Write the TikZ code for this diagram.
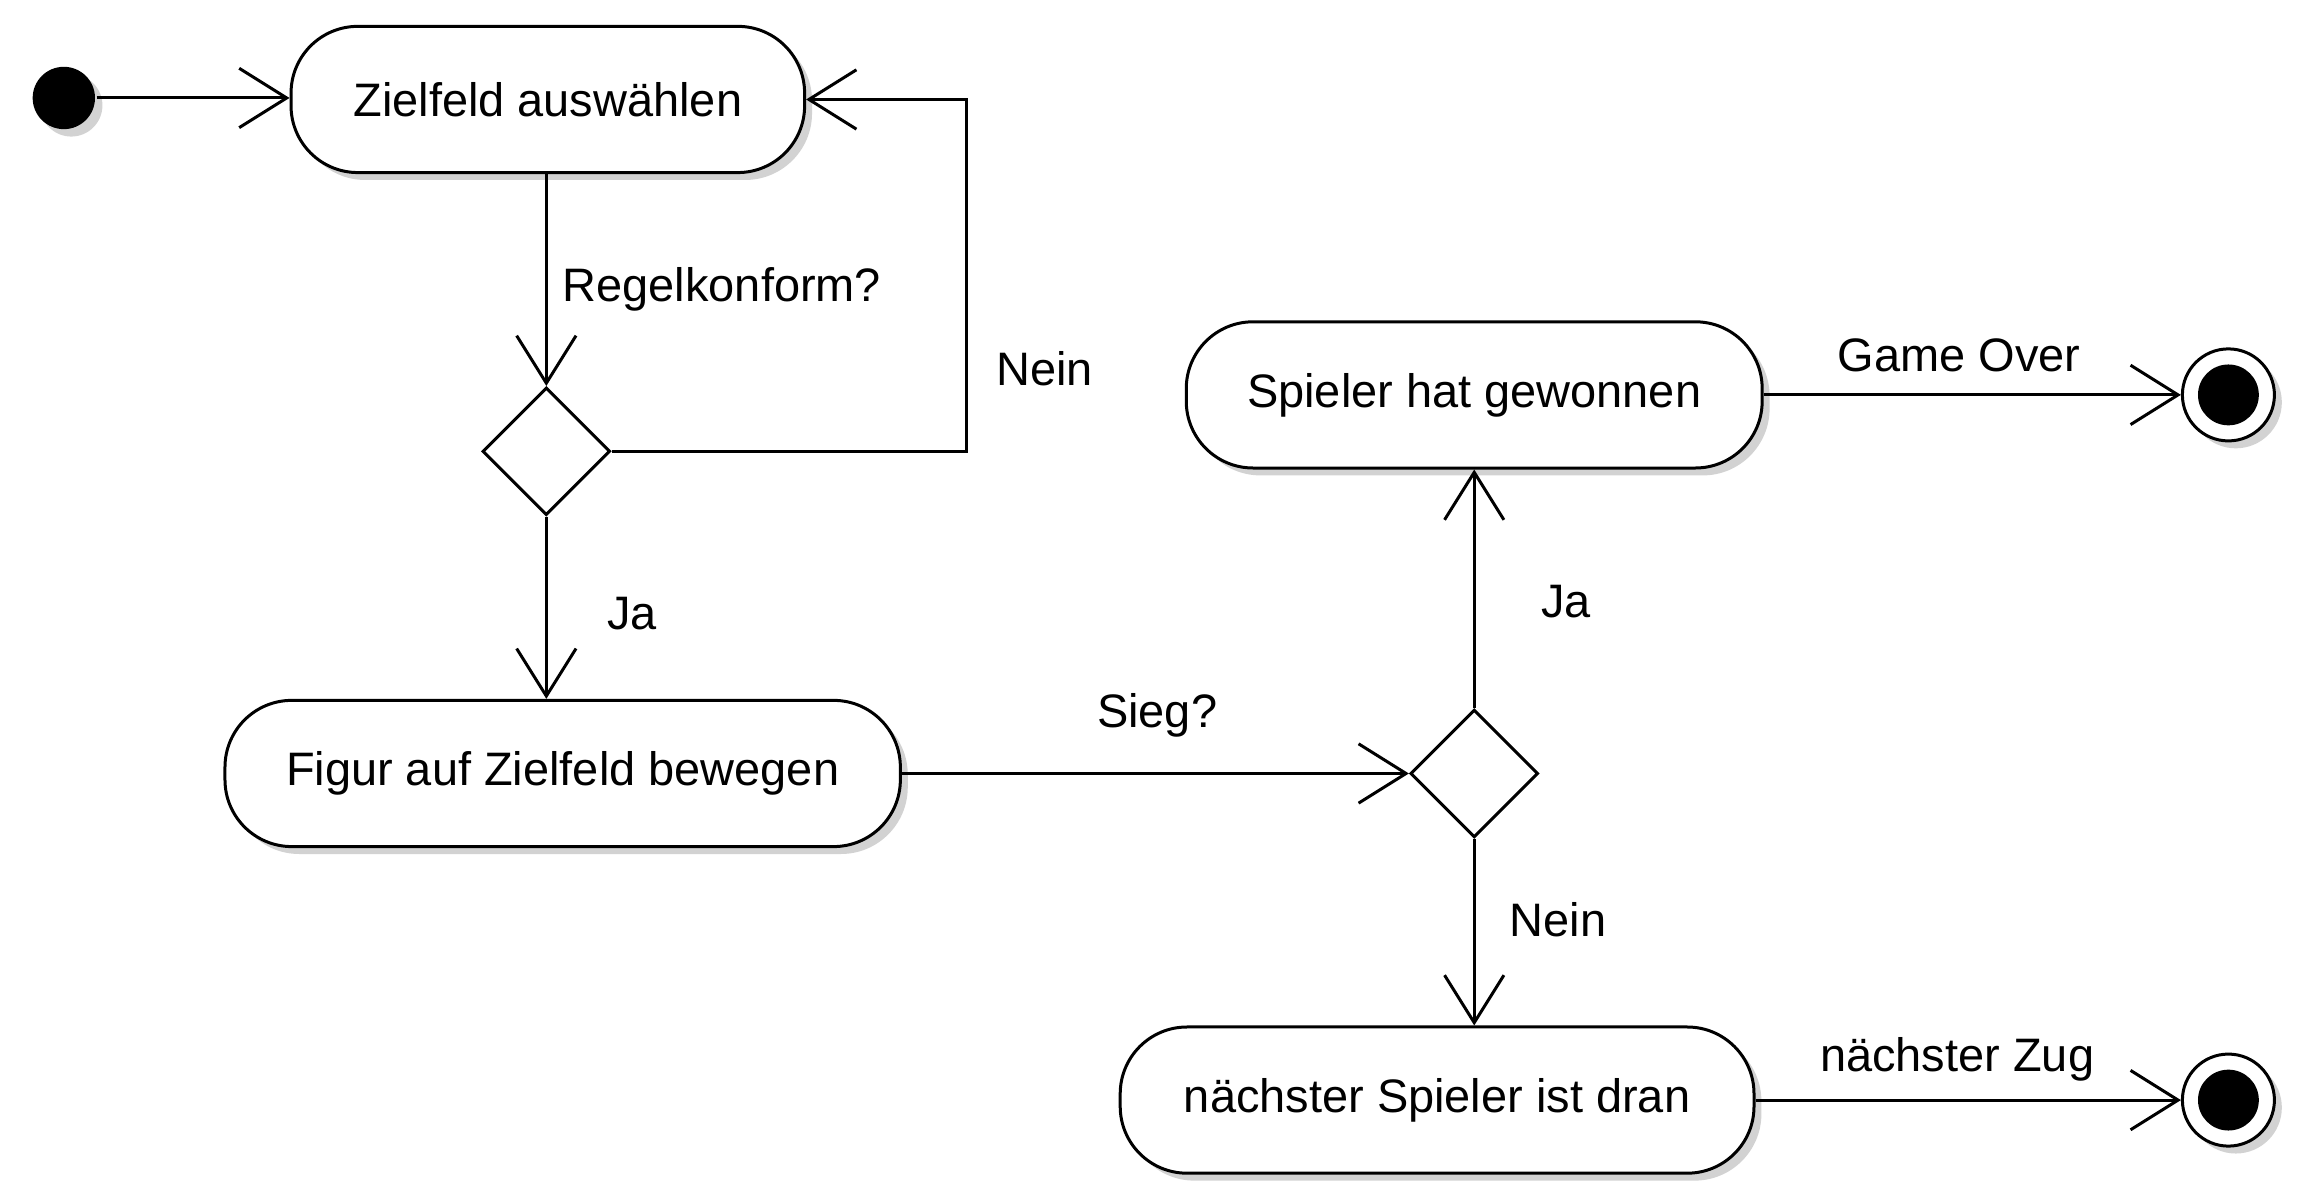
\documentclass[tikz,border=0pt]{standalone}
\usepackage{fontspec}
\setmainfont{Liberation Sans}
\usetikzlibrary{arrows.meta,shapes.geometric,shadows}

\begin{document}
\begin{tikzpicture}[x=0.02cm, y=-0.02cm, line width=1.15pt,
    shad/.style={drop shadow={shadow xshift=0.1cm, shadow yshift=-0.1cm, fill=gray!70, opacity=0.5}},
    act/.style={draw, fill=white, rounded corners=0.9cm, minimum height=1.97cm, inner sep=0pt,
        font=\fontsize{18}{22}\selectfont, shad},
    dec/.style={draw, fill=white, diamond, minimum size=1.72cm, inner sep=0pt},
    startnode/.style={circle, fill=black, minimum size=0.84cm, inner sep=0pt, shad},
    endnode/.style={circle, draw, fill=white, minimum size=1.24cm, inner sep=0pt, shad,
        path picture={\fill[black] (path picture bounding box.center) circle (0.41cm);}},
    lbl/.style={anchor=base west, inner sep=0pt, font=\fontsize{18}{22}\selectfont},
    flow/.style={-{Straight Barb[length=0.64cm, width=0.8cm]}}]
    \useasboundingbox (0,0) rectangle (1560,810);

    % Knoten
    \node[startnode] (start) at (43,66) {};
    \node[act, minimum width=6.92cm] (ziel) at (369,67) {Zielfeld auswählen};
    \node[dec] (regel) at (368,304) {};
    \node[act, minimum width=9.1cm] (figur) at (379,521) {Figur auf Zielfeld bewegen};
    \node[dec] (sieg) at (993,521) {};
    \node[act, minimum width=7.76cm] (gewonnen) at (993,266) {Spieler hat gewonnen};
    \node[act, minimum width=8.54cm] (naechster) at (968,741) {nächster Spieler ist dran};
    \node[endnode] (ende1) at (1501,266) {};
    \node[endnode] (ende2) at (1501,741) {};

    % Kanten
    \draw[flow] (start) -- (start -| ziel.west);
    \draw[flow] (ziel.south -| regel) -- (regel.north);
    \draw[flow] (regel.east) -- (651,304) |- (ziel.east);
    \draw[flow] (regel.south) -- (regel.south |- figur.north);
    \draw[flow] (figur.east) -- (sieg.west);
    \draw[flow] (sieg.north) -- (gewonnen.south);
    \draw[flow] (sieg.south) -- (sieg.south |- naechster.north);
    \draw[flow] (gewonnen.east) -- (ende1.west);
    \draw[flow] (naechster.east) -- (ende2.west);

    % Beschriftungen
    \node[lbl] (lregel) at (378,203) {Regelkonform?};
    \node[lbl] (lnein1) at (670,260) {Nein};
    \node[lbl] (lja1) at (408,424) {Ja};
    \node[lbl] (lsieg) at (738,490) {Sieg?};
    \node[lbl] (lja2) at (1037,416) {Ja};
    \node[lbl] (lnein2) at (1016,631) {Nein};
    \node[lbl] (lover) at (1237,250) {Game Over};
    \node[lbl] (lzug) at (1225,722) {nächster Zug};
\end{tikzpicture}
\end{document}
